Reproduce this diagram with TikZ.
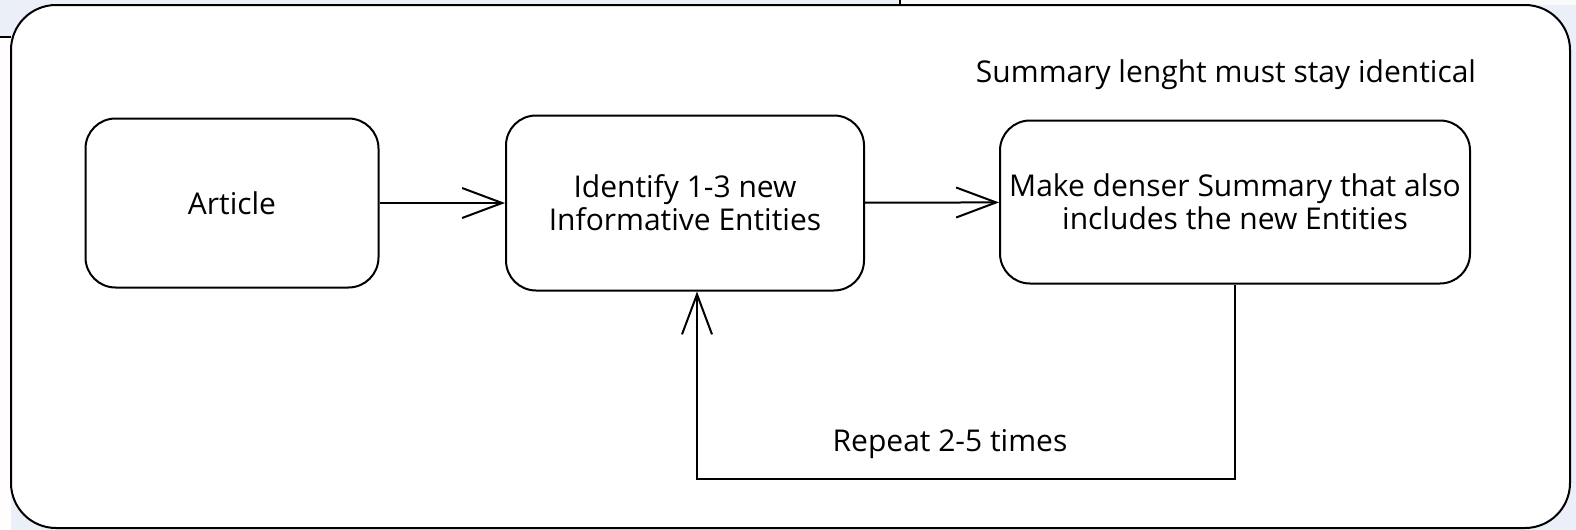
\documentclass[tikz,border=0pt]{standalone}
\usepackage{fontspec}
\setmainfont{Open Sans}
\usetikzlibrary{arrows.meta}
\definecolor{pagebg}{HTML}{EAEFF8}
\tikzset{
  stagebox/.style={draw,line width=1pt,rounded corners=15pt,align=center,
    font=\fontsize{15}{16.5}\selectfont},
  sketcharrow/.style={line width=1pt,-{Straight Barb[length=20pt,width=15pt,line width=1pt]}},
  note/.style={font=\fontsize{15}{16.5}\selectfont}
}
\begin{document}
\begin{tikzpicture}[x=0.5pt,y=-0.5pt]
\useasboundingbox (0,0) rectangle (1576,530);
\fill[pagebg] (0,0) rectangle (1576,530);
\fill[white!96!gray] (900,0) rectangle (1576,5);
\fill[white!97!pink] (0,37) rectangle (11,530);
\draw[line width=1pt] (0,37)--(11,37);
\draw[line width=1pt] (900,0)--(900,5);
\draw[fill=white,line width=1pt,rounded corners=22.5pt] (11,5) rectangle (1570,528); % frame
\node[stagebox,minimum width=146.5pt,minimum height=84.5pt] (article) at (232,203) {Article};
\node[stagebox,minimum width=179pt,minimum height=87.5pt] (ident) at (685,203) {Identify 1-3 new\\Informative Entities};
\node[stagebox,minimum width=235pt,minimum height=81.5pt] (make) at (1235,202) {Make denser Summary that also\\includes the new Entities};
\node[note] (keep) at (1226,75) {Summary lenght must stay identical};
\draw[sketcharrow] (article) -- (ident);
\draw[sketcharrow] (ident) -- (make);
\coordinate (looplow) at (697,479);
\draw[sketcharrow] (make.south) |- (looplow) -- (looplow |- ident.south);
\node[note] (repeat) at (950,444) {Repeat 2-5 times};
\end{tikzpicture}
\end{document}
